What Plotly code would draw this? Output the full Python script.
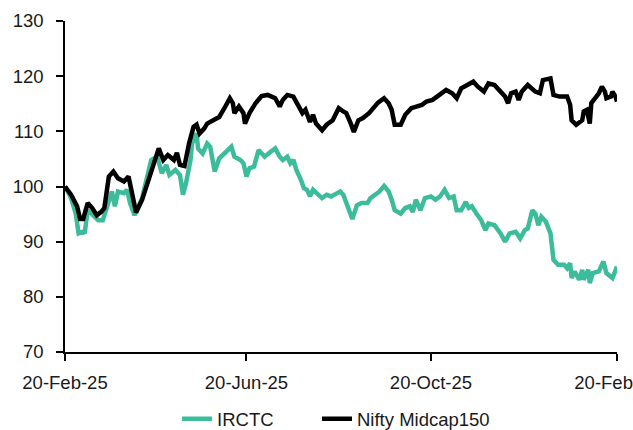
import plotly.graph_objects as go

# ---- data (indexed to 100 on 20-Feb-25) ----
irctc_dates = [
    "2025-02-20", "2025-02-24", "2025-02-27", "2025-03-01", "2025-03-04", "2025-03-05",
    "2025-03-07", "2025-03-11", "2025-03-14", "2025-03-17", "2025-03-21", "2025-03-23",
    "2025-03-25", "2025-03-27", "2025-03-31", "2025-04-02", "2025-04-04", "2025-04-07",
    "2025-04-12", "2025-04-15", "2025-04-18", "2025-04-22", "2025-04-25", "2025-04-28",
    "2025-04-30", "2025-05-04", "2025-05-07", "2025-05-09", "2025-05-11", "2025-05-14",
    "2025-05-15", "2025-05-18", "2025-05-19", "2025-05-22", "2025-05-25", "2025-05-27",
    "2025-05-30", "2025-06-02", "2025-06-06", "2025-06-10", "2025-06-12", "2025-06-16",
    "2025-06-18", "2025-06-20", "2025-06-22", "2025-06-25", "2025-06-28", "2025-06-30",
    "2025-07-02", "2025-07-06", "2025-07-09", "2025-07-12", "2025-07-14", "2025-07-17",
    "2025-07-19", "2025-07-21", "2025-07-23", "2025-07-26", "2025-07-28", "2025-07-30",
    "2025-08-01", "2025-08-03", "2025-08-07", "2025-08-09", "2025-08-12", "2025-08-15",
    "2025-08-19", "2025-08-21", "2025-08-23", "2025-08-26", "2025-08-29", "2025-09-01",
    "2025-09-04", "2025-09-08", "2025-09-10", "2025-09-13", "2025-09-16", "2025-09-19",
    "2025-09-22", "2025-09-24", "2025-09-26", "2025-09-30", "2025-10-03", "2025-10-06",
    "2025-10-08", "2025-10-10", "2025-10-13", "2025-10-16", "2025-10-20", "2025-10-23",
    "2025-10-26", "2025-10-29", "2025-11-01", "2025-11-04", "2025-11-06", "2025-11-09",
    "2025-11-12", "2025-11-14", "2025-11-16", "2025-11-19", "2025-11-22", "2025-11-25",
    "2025-11-27", "2025-12-01", "2025-12-05", "2025-12-08", "2025-12-11", "2025-12-15",
    "2025-12-18", "2025-12-21", "2025-12-23", "2025-12-26", "2025-12-28", "2025-12-30",
    "2026-01-01", "2026-01-04", "2026-01-07", "2026-01-09", "2026-01-12", "2026-01-16",
    "2026-01-18", "2026-01-20", "2026-01-21", "2026-01-23", "2026-01-26", "2026-01-28",
    "2026-01-29", "2026-02-01", "2026-02-02", "2026-02-04", "2026-02-08", "2026-02-11",
    "2026-02-13", "2026-02-17", "2026-02-20",
]
irctc_values = [
    100.0, 97.9, 95.2, 91.5, 91.8, 91.5,
    95.7, 94.5, 93.9, 93.9, 97.6, 99.1,
    96.4, 99.1, 98.8, 99.4, 97.0, 94.8,
    97.9, 101.8, 104.8, 105.4, 102.4, 103.9,
    102.1, 103.0, 102.1, 98.5, 100.6, 104.8,
    107.8, 109.6, 106.9, 106.0, 107.8, 107.2,
    102.7, 105.1, 106.3, 107.2, 105.4, 104.8,
    104.2, 101.8, 103.3, 103.6, 106.6, 106.0,
    105.4, 106.3, 106.9, 105.4, 104.8, 105.4,
    104.2, 104.8, 103.0, 101.2, 99.7, 99.4,
    98.2, 99.4, 98.5, 97.9, 98.5, 98.2,
    98.8, 99.1, 98.5, 96.4, 94.1, 96.6,
    97.0, 97.0, 97.9, 98.5, 99.1, 100.1,
    99.1, 97.6, 95.7, 95.1, 96.1, 96.4,
    95.4, 97.6, 95.7, 97.9, 98.2, 97.6,
    98.2, 99.4, 97.9, 98.2, 95.7, 95.7,
    97.2, 96.1, 96.4, 95.1, 94.0, 92.1,
    93.3, 93.0, 91.5, 90.0, 91.5, 91.8,
    90.6, 92.1, 92.4, 95.7, 95.1, 93.0,
    94.5, 93.6, 91.5, 86.7, 85.8, 85.8,
    85.2, 86.1, 83.4, 84.6, 83.1, 84.9,
    83.1, 84.9, 82.5, 84.3, 84.6, 86.4,
    84.3, 83.4, 85.5,
]

nifty_dates = [
    "2025-02-20", "2025-02-24", "2025-02-28", "2025-03-02", "2025-03-04", "2025-03-07",
    "2025-03-10", "2025-03-13", "2025-03-16", "2025-03-18", "2025-03-21", "2025-03-24",
    "2025-03-27", "2025-03-31", "2025-04-03", "2025-04-05", "2025-04-08", "2025-04-12",
    "2025-04-16", "2025-04-20", "2025-04-23", "2025-04-26", "2025-04-29", "2025-05-03",
    "2025-05-05", "2025-05-07", "2025-05-10", "2025-05-13", "2025-05-16", "2025-05-18",
    "2025-05-20", "2025-05-23", "2025-05-25", "2025-05-29", "2025-06-02", "2025-06-06",
    "2025-06-09", "2025-06-11", "2025-06-12", "2025-06-15", "2025-06-18", "2025-06-19",
    "2025-06-22", "2025-06-26", "2025-06-30", "2025-07-04", "2025-07-09", "2025-07-12",
    "2025-07-14", "2025-07-17", "2025-07-21", "2025-07-24", "2025-07-27", "2025-07-29",
    "2025-08-01", "2025-08-03", "2025-08-05", "2025-08-09", "2025-08-12", "2025-08-16",
    "2025-08-20", "2025-08-23", "2025-08-25", "2025-08-28", "2025-08-30", "2025-09-02",
    "2025-09-05", "2025-09-09", "2025-09-12", "2025-09-15", "2025-09-19", "2025-09-22",
    "2025-09-24", "2025-09-26", "2025-09-30", "2025-10-03", "2025-10-07", "2025-10-11",
    "2025-10-14", "2025-10-17", "2025-10-21", "2025-10-24", "2025-10-27", "2025-10-30",
    "2025-11-03", "2025-11-06", "2025-11-09", "2025-11-13", "2025-11-17", "2025-11-20",
    "2025-11-24", "2025-11-27", "2025-12-01", "2025-12-05", "2025-12-08", "2025-12-10",
    "2025-12-12", "2025-12-15", "2025-12-17", "2025-12-19", "2025-12-23", "2025-12-28",
    "2025-12-31", "2026-01-02", "2026-01-07", "2026-01-09", "2026-01-13", "2026-01-18",
    "2026-01-20", "2026-01-21", "2026-01-24", "2026-01-28", "2026-01-29", "2026-01-31",
    "2026-02-02", "2026-02-03", "2026-02-06", "2026-02-08", "2026-02-10", "2026-02-12",
    "2026-02-13", "2026-02-16", "2026-02-17", "2026-02-19", "2026-02-20",
]
nifty_values = [
    100.0, 98.5, 96.4, 94.1, 94.1, 97.0,
    96.1, 94.8, 95.4, 96.1, 101.8, 102.7,
    101.5, 100.9, 101.8, 99.4, 95.3, 97.6,
    101.2, 104.5, 106.9, 104.8, 105.7, 104.8,
    106.1, 103.9, 103.7, 107.8, 110.8, 111.2,
    109.6, 110.5, 111.4, 112.0, 112.6, 114.5,
    116.0, 115.1, 113.3, 114.5, 113.3, 111.4,
    113.3, 115.1, 116.4, 116.6, 116.0, 114.5,
    115.7, 116.6, 116.3, 114.8, 113.3, 113.9,
    111.7, 113.0, 111.4, 110.2, 111.2, 112.0,
    114.2, 113.6, 113.3, 111.4, 109.9, 112.0,
    112.4, 113.3, 114.2, 115.2, 116.0, 115.1,
    113.9, 111.2, 111.2, 113.0, 114.2, 114.5,
    114.8, 115.4, 115.7, 116.3, 116.9, 117.5,
    116.9, 116.0, 117.8, 118.4, 119.0, 118.1,
    117.2, 118.7, 118.4, 117.2, 116.3, 115.1,
    116.9, 117.2, 115.7, 117.2, 118.4, 117.2,
    116.9, 119.3, 119.6, 116.6, 116.3, 116.3,
    114.8, 112.0, 111.2, 112.0, 113.6, 113.9,
    111.4, 115.1, 116.3, 116.9, 118.1, 117.2,
    116.0, 116.3, 117.2, 116.3, 115.4,
]

x_tick_vals = ["2025-02-20", "2025-06-20", "2025-10-20", "2026-02-20"]
x_tick_text = ["20-Feb-25", "20-Jun-25", "20-Oct-25", "20-Feb-26"]
y_ticks = [70, 80, 90, 100, 110, 120, 130]

series_names = ["IRCTC", "Nifty Midcap150"]
series_colors = ["#3CBC9B", "#000000"]

FONT = "Liberation Sans, Arial, sans-serif"
TXT = "#1a1a1a"
FS = 18.5

fig = go.Figure()
fig.add_trace(go.Scatter(
    x=irctc_dates, y=irctc_values, name=series_names[0], mode="lines",
    line=dict(color=series_colors[0], width=4.5), legend="legend",
))
fig.add_trace(go.Scatter(
    x=nifty_dates, y=nifty_values, name=series_names[1], mode="lines",
    line=dict(color=series_colors[1], width=4.5), legend="legend2",
))

legend_common = dict(
    orientation="h", yref="container", y=0.025, yanchor="middle",
    xanchor="left", font=dict(family=FONT, size=FS, color=TXT),
    bgcolor="rgba(0,0,0,0)", borderwidth=0,
)

fig.update_layout(
    width=633, height=430,
    margin=dict(l=65, r=16, t=21, b=78),
    paper_bgcolor="white", plot_bgcolor="white",
    font=dict(family=FONT, size=FS, color=TXT),
    showlegend=True,
    legend=dict(x=0.203, **legend_common),
    legend2=dict(x=0.4565, **legend_common),
    xaxis=dict(
        type="date", range=["2025-02-20", "2026-02-20"],
        tickmode="array", tickvals=x_tick_vals, ticktext=x_tick_text,
        showgrid=False, zeroline=False,
        showline=True, linecolor="black", linewidth=1.5,
        ticks="outside", ticklen=7, tickwidth=1.5, tickcolor="black",
        ticklabelstandoff=6, automargin=False, ticklabeloverflow="allow",
        tickfont=dict(family=FONT, size=FS, color=TXT),
    ),
    yaxis=dict(
        range=[70, 130], tickmode="array", tickvals=y_ticks,
        showgrid=False, zeroline=False,
        showline=True, linecolor="black", linewidth=1.5,
        ticks="outside", ticklen=7, tickwidth=1.5, tickcolor="black",
        ticklabelstandoff=9, automargin=False,
        tickfont=dict(family=FONT, size=FS, color=TXT),
    ),
)

fig.write_html("out.html")
